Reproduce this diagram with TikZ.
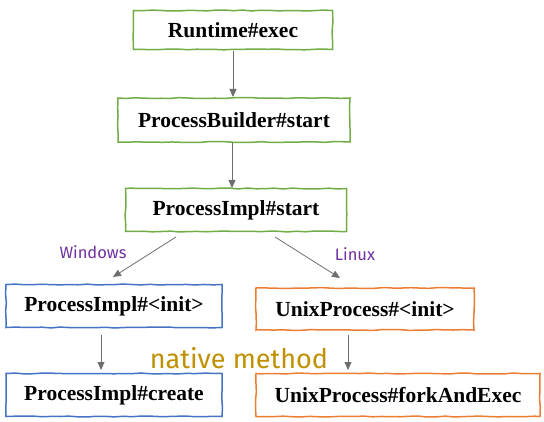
\documentclass[tikz,border=0pt]{standalone}
\usepackage{fontspec}
\setmainfont{Liberation Serif}
\newfontfamily\notefont{Fira Sans}
\usetikzlibrary{arrows.meta,decorations.pathmorphing}
\definecolor{boxgreen}{HTML}{70AD47}
\definecolor{boxblue}{HTML}{4472C4}
\definecolor{boxorange}{HTML}{ED7D31}
\definecolor{arrowgray}{HTML}{6E6E6E}
\definecolor{labelpurple}{HTML}{7030A0}
\definecolor{labelgold}{HTML}{BF9000}
\pgfmathsetseed{7}
\begin{document}
\begin{tikzpicture}[x=1pt,y=-1pt,
  method/.style={draw, line width=1.5pt, fill=white, inner sep=0pt,
    decorate, decoration={random steps, segment length=9pt, amplitude=0.5pt},
    font=\fontsize{21.5}{24}\selectfont\bfseries},
  flow/.style={draw=arrowgray, line width=0.8pt, -{Triangle[length=8pt,width=7pt]}},
  tag/.style={font=\notefont\fontsize{16.5}{18}\selectfont, text=labelpurple}]
\useasboundingbox (0,0) rectangle (544,422);
% call chain
\node[method, draw=boxgreen, minimum width=199pt, minimum height=39pt] (exec) at (233,30) {Runtime\#exec};
\node[method, draw=boxgreen, minimum width=232pt, minimum height=44pt] (pb) at (234,120) {ProcessBuilder\#start};
\node[method, draw=boxgreen, minimum width=221pt, minimum height=43pt] (pi) at (236,210) {ProcessImpl\#start};
% Windows branch
\node[method, draw=boxblue, minimum width=216pt, minimum height=43pt] (winit) at (114,306) {ProcessImpl\#<init>};
\node[method, draw=boxblue, minimum width=216pt, minimum height=43pt] (wcreate) at (114,395) {ProcessImpl\#create};
% Linux branch
\node[method, draw=boxorange, minimum width=218pt, minimum height=42pt] (uinit) at (365,309) {UnixProcess\#<init>};
\node[method, draw=boxorange, minimum width=284pt, minimum height=43pt] (ufork) at (398,395) {UnixProcess\#forkAndExec};
% connectors
\coordinate (pbTop) at (233,97);
\coordinate (piTop) at (232,188);
\draw[flow] (exec.south) ++(0,1) -- (pbTop);
\draw[flow] (232,143) -- (piTop);
\coordinate (wsrc) at (176,237);
\coordinate (wdst) at (113,277);
\coordinate (lsrc) at (275,237);
\coordinate (ldst) at (340,278);
\draw[flow] (wsrc) -- (wdst);
\draw[flow] (lsrc) -- (ldst);
\coordinate (wdown) at (101,370);
\coordinate (ldown) at (348,370);
\draw[flow] (101,335) -- (wdown);
\draw[flow] (348,335) -- (ldown);
% labels
\node[tag] (win) at (93,252) {Windows};
\node[tag] (lin) at (355,254) {Linux};
\node[font=\notefont\fontsize{27}{30}\selectfont, text=labelgold] (native) at (239,358) {native method};
\end{tikzpicture}
\end{document}
